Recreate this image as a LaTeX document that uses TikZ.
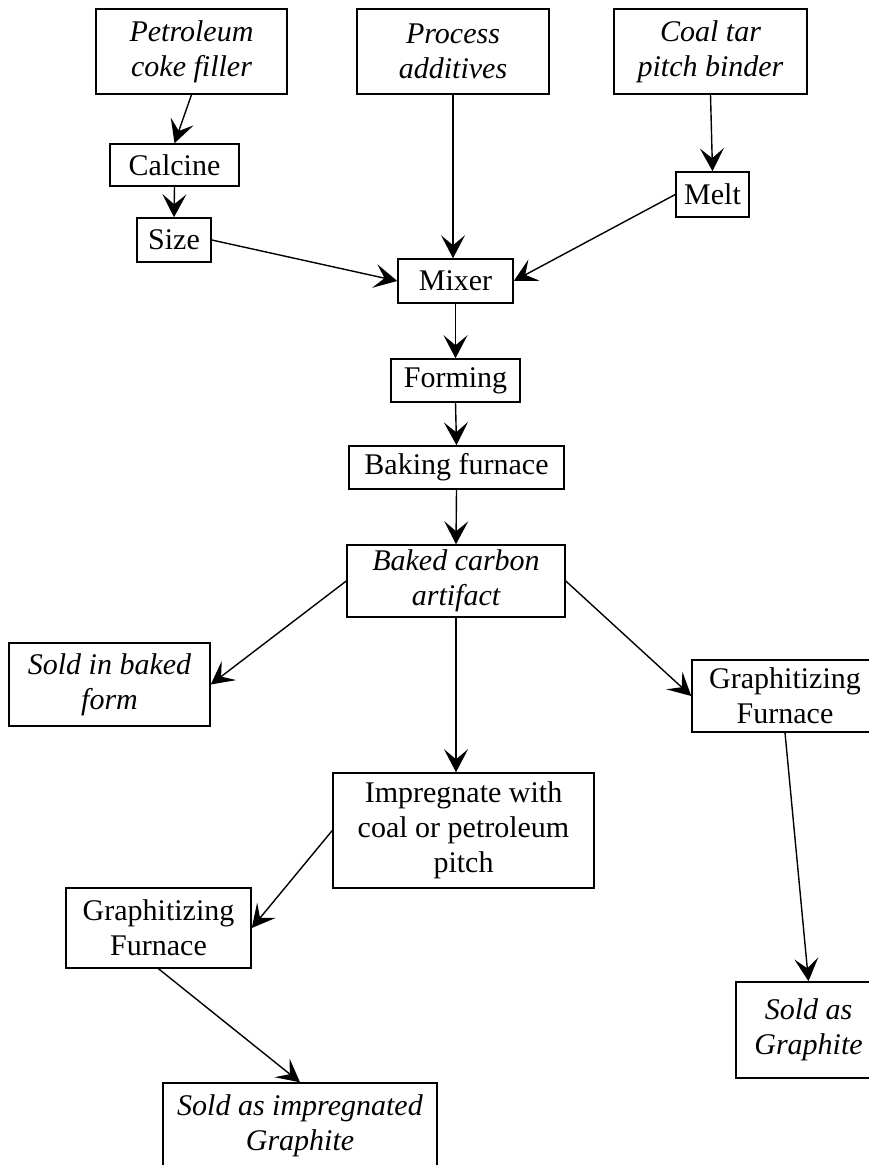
\documentclass[tikz,border=0pt]{standalone}
\usepackage{fontspec}
\setmainfont{Liberation Serif}
\usetikzlibrary{arrows.meta}

\begin{document}
\begin{tikzpicture}[x=0.5pt,y=-0.5pt,
  wh/.style 2 args={minimum width=#1*0.5pt, minimum height=#2*0.5pt},
  box/.style={draw, line width=0.75pt, align=center, inner sep=0pt,
    font=\fontsize{15}{17.5}\selectfont},
  ibox/.style={box, font=\fontsize{15}{17.5}\selectfont\itshape},
  flow/.style={line width=0.7pt, -{Stealth[length=11.5pt,width=12pt,inset=5pt]}}]

  % Fix the frame of the picture (sizes below are in pixels of the sheet)
  \useasboundingbox (0,0) rectangle (868,1165);

  % Raw materials along the top
  \node[ibox, wh={191}{85}] (pet) at (191.5,51.5) {Petroleum\\coke filler};
  \node[ibox, wh={192}{85}] (add) at (453,51.5) {Process\\additives};
  \node[ibox, wh={193}{85}] (tar) at (710.5,51.5) {Coal tar\\pitch binder};

  % Preparing filler and binder
  \node[box, wh={129}{42}] (calc) at (174.5,165) {Calcine};
  \node[box, wh={74}{44}] (size) at (174,240) {Size};
  \node[box, wh={73}{45}] (melt) at (712.5,194.5) {Melt};

  % Main line down the middle
  \node[box, wh={115}{44}] (mix) at (455.5,281) {Mixer};
  \node[box, wh={129}{43}] (form) at (455.5,380.5) {Forming};
  \node[box, wh={215}{43}] (bake) at (456.5,467.5) {Baking furnace};
  \node[ibox, wh={218}{72}] (art) at (456,581) {Baked carbon\\artifact};

  % Three ways out of the baked artifact
  \node[ibox, wh={201}{83}] (soldb) at (109.5,684.5) {Sold in baked\\form};
  \node[box, wh={186}{72}] (graR) at (785,696) {Graphitizing\\Furnace};
  \node[box, wh={261}{115}] (imp) at (463.5,830.5) {Impregnate with\\coal or petroleum\\pitch};

  % Graphite products
  \node[box, wh={185}{80}] (graL) at (158.5,928) {Graphitizing\\Furnace};
  \node[ibox, wh={145}{96}] (solgR) at (808.5,1030) {Sold as\\Graphite};
  \node[ibox, wh={274}{86}] (solI) at (300,1126) {Sold as impregnated\\Graphite};

  % Arrows at the top
  \draw[flow] (pet.south) -- (calc.north);
  \draw[flow] (calc.south) -- (size.north);
  \draw[flow] (tar.south) -- (melt.north);
  \draw[flow] (size.east) -- (mix.west);
  \draw[flow] (add.south) -- (add.south |- mix.north);
  \draw[flow] (melt.west) -- (mix.east);

  % Arrows down the middle
  \draw[flow] (mix.south) -- (form.north);
  \draw[flow] (form.south) -- (bake.north);
  \draw[flow] (bake.south) -- (art.north);

  % Arrows out of the artifact
  \draw[flow] (art.west) -- (soldb.east);
  \draw[flow] (art.east) -- (graR.west);
  \draw[flow] (art.south) -- (art.south |- imp.north);

  % Arrows to the products
  \draw[flow] (imp.west) -- (graL.east);
  \draw[flow] (graL.south) -- (solI.north);
  \draw[flow] (graR.south) -- (solgR.north);

\end{tikzpicture}
\end{document}
